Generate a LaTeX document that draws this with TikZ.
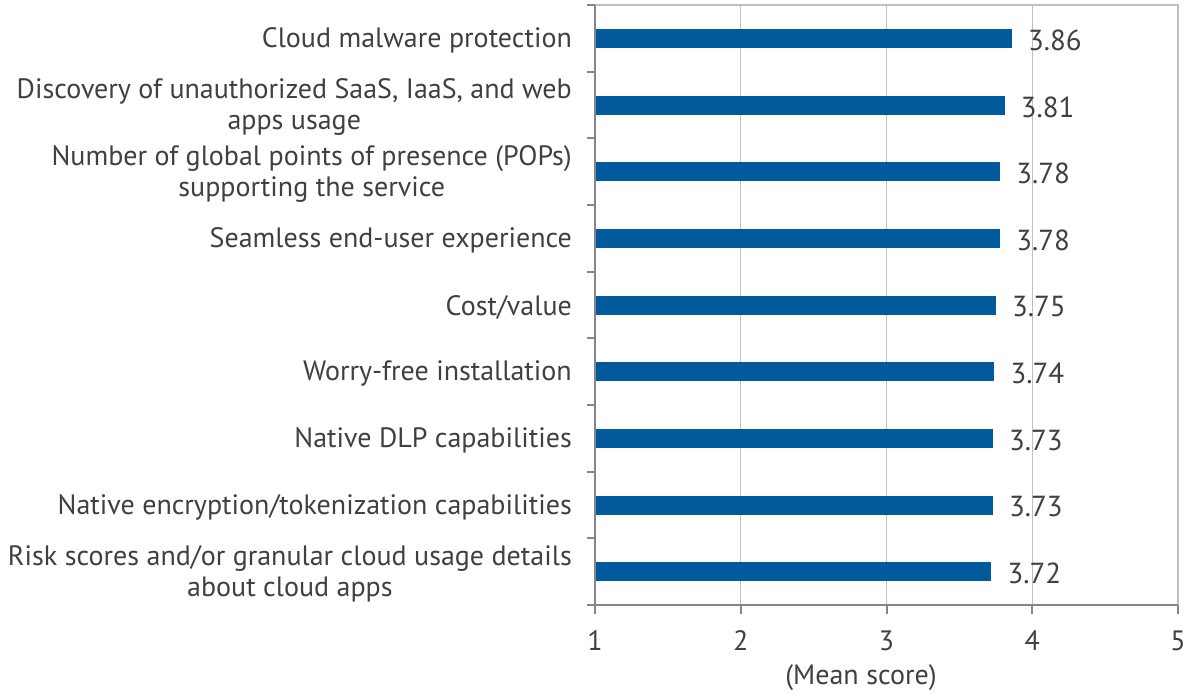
\documentclass[tikz,border=0pt]{standalone}
\usepackage{fontspec}
\setmainfont{PT Sans}
\definecolor{barblue}{HTML}{005A9C}
\definecolor{txt}{HTML}{404040}
\definecolor{axisgray}{HTML}{868686}
\definecolor{gridgray}{HTML}{C0C0C0}
\tikzset{
  barfill/.style={fill=barblue},
  catlabel/.style={anchor=east, align=center, inner sep=0pt, text=txt, font=\fontsize{28}{31}\selectfont},
  vallabel/.style={anchor=west, inner sep=0pt, text=txt, font=\fontsize{29}{31}\selectfont},
  ticklabel/.style={inner sep=0pt, text=txt, font=\fontsize{28}{31}\selectfont},
  gridline/.style={draw=gridgray, line width=1pt},
  axisline/.style={draw=axisgray, line width=2pt},
}
\begin{document}
\begin{tikzpicture}[x=1pt,y=-1pt]
\useasboundingbox (0,0) rectangle (1190,694);
% grid and frame
\foreach \v in {2,3,4} {
  \draw[gridline] ({595+(\v-1)*145.75},5) -- ({595+(\v-1)*145.75},605);
}
\draw[draw=gridgray, line width=1.6pt] (595,5) -- (1178,5) -- (1178,605);
% bars, values, labels
\foreach \i/\val/\lab in {
  1/3.86/{Cloud malware protection},
  2/3.81/{Discovery of unauthorized SaaS, IaaS, and web\\apps usage},
  3/3.78/{Number of global points of presence (POPs)\\supporting the service},
  4/3.78/{Seamless end-user experience},
  5/3.75/{Cost/value},
  6/3.74/{Worry-free installation},
  7/3.73/{Native DLP capabilities},
  8/3.73/{Native encryption/tokenization capabilities},
  9/3.72/{Risk scores and/or granular cloud usage details\\about cloud apps}} {
  \pgfmathsetmacro{\yc}{5+66.667*(\i-0.5)}
  \pgfmathsetmacro{\xe}{595+(\val-1)*145.75}
  \fill[barfill] (596,\yc-9.5) rectangle (\xe,\yc+9.5);
  \node[vallabel] (val\i) at (\xe+16,\yc+2) {\val};
  \node[catlabel] (lab\i) at (572,\yc+2) {\lab};
}
% axes
\foreach \k in {0,...,9} {
  \draw[axisline] (587,{5+66.667*\k}) -- (595,{5+66.667*\k});
}
\foreach \v in {1,...,5} {
  \draw[axisline] ({595+(\v-1)*145.75},605) -- ({595+(\v-1)*145.75},614);
  \node[ticklabel] (tick\v) at ({595+(\v-1)*145.75},641) {\v};
}
\draw[axisline] (595,5) -- (595,605) -- (1178,605);
\node[ticklabel] (xtitle) at (861,678) {(Mean score)};
\end{tikzpicture}
\end{document}
